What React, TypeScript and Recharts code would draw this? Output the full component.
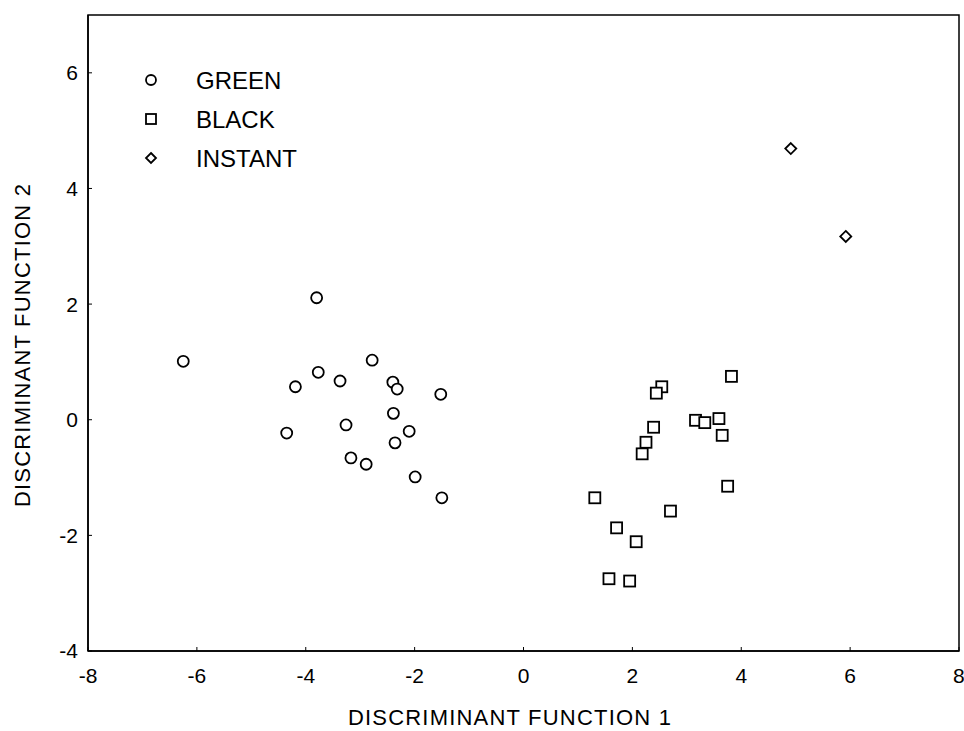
import React from 'react'
import {
  ScatterChart, Scatter, XAxis, YAxis, ReferenceArea,
} from 'recharts'

// discriminant scores
const greenX = [-6.25, -3.8, -2.78, -3.77, -4.19, -3.37, -2.4, -2.32, -1.52, -2.39, -3.26, -4.35, -2.1, -2.36, -3.17, -2.89, -1.99, -1.5]
const greenY = [1.01, 2.11, 1.03, 0.82, 0.57, 0.67, 0.65, 0.53, 0.44, 0.11, -0.09, -0.23, -0.2, -0.4, -0.66, -0.77, -0.99, -1.35]

const blackX = [3.82, 2.54, 2.44, 3.16, 3.33, 3.59, 3.65, 2.39, 2.25, 2.18, 3.75, 1.31, 2.7, 1.71, 2.07, 1.57, 1.95]
const blackY = [0.75, 0.57, 0.46, -0.01, -0.05, 0.02, -0.27, -0.13, -0.39, -0.59, -1.15, -1.35, -1.58, -1.87, -2.11, -2.75, -2.79]

const instantX = [4.91, 5.92]
const instantY = [4.69, 3.17]

const xTicks = [-8, -6, -4, -2, 0, 2, 4, 6, 8]
const yTicks = [-4, -2, 0, 2, 4, 6]

type Kind = 'circle' | 'square' | 'diamond'

const zip = (xs: number[], ys: number[]) => xs.map((x, i) => ({ x, y: ys[i] }))

const SERIES: { name: string; kind: Kind; data: { x: number; y: number }[] }[] = [
  { name: 'GREEN', kind: 'circle', data: zip(greenX, greenY) },
  { name: 'BLACK', kind: 'square', data: zip(blackX, blackY) },
  { name: 'INSTANT', kind: 'diamond', data: zip(instantX, instantY) },
]

const FONT = '"Liberation Sans", Arial, sans-serif'

function Marker({ cx, cy, kind, r = 5.5 }: { cx: number; cy: number; kind: Kind; r?: number }) {
  const common = { fill: '#fff', stroke: '#000', strokeWidth: 1.8 }
  if (kind === 'circle') return <circle cx={cx} cy={cy} r={r} {...common} />
  if (kind === 'square') return <rect x={cx - r} y={cy - r} width={r * 2} height={r * 2} {...common} />
  return <path d={`M${cx},${cy - r}L${cx + r},${cy}L${cx},${cy + r}L${cx - r},${cy}Z`} {...common} />
}

// legend sits inside the plot frame, top-left
function LegendBox() {
  return (
    <svg width={220} height={130} style={{ position: 'absolute', left: 130, top: 55 }}>
      {SERIES.map((s, i) => (
        <g key={s.name}>
          <Marker cx={21} cy={25 + i * 39} kind={s.kind} r={5} />
          <text x={66} y={25 + i * 39} dy="0.36em" fontSize={24} fontFamily={FONT} fill="#000">
            {s.name}
          </text>
        </g>
      ))}
    </svg>
  )
}

export default function App() {
  return (
    <div style={{ position: 'absolute', left: 0, top: 0, width: 964, height: 731, background: '#fff' }}>
      <ScatterChart width={964} height={731} margin={{ top: 15, right: 5, bottom: 0, left: 0 }}>
        <XAxis
          type="number"
          dataKey="x"
          domain={[-8, 8]}
          ticks={xTicks}
          height={80}
          allowDataOverflow
          tickSize={-4}
          tickMargin={21}
          tick={{ fontSize: 21, fontFamily: FONT, fill: '#000' }}
          axisLine={{ stroke: '#000', strokeWidth: 1.5 }}
          tickLine={{ stroke: '#000' }}
          label={{
            content: () => (
              <text x={510} y={725} textAnchor="middle" fontSize={22} letterSpacing={1.2} fontFamily={FONT} fill="#000">
                DISCRIMINANT FUNCTION 1
              </text>
            ),
          }}
        />
        <YAxis
          type="number"
          dataKey="y"
          domain={[-4, 7]}
          ticks={yTicks}
          width={88}
          allowDataOverflow
          tickSize={-4}
          tickMargin={14}
          tick={{ fontSize: 21, fontFamily: FONT, fill: '#000' }}
          axisLine={{ stroke: '#000', strokeWidth: 1.5 }}
          tickLine={{ stroke: '#000' }}
          label={{
            content: () => (
              <text
                transform="translate(22.5,345) rotate(-90)"
                textAnchor="middle"
                dy="0.36em"
                fontSize={22}
                letterSpacing={1.2}
                fontFamily={FONT}
                fill="#000"
              >
                DISCRIMINANT FUNCTION 2
              </text>
            ),
          }}
        />
        <ReferenceArea x1={-8} x2={8} y1={-4} y2={7} fill="none" stroke="#000" strokeWidth={1.5} ifOverflow="visible" />
        {SERIES.map(s => (
          <Scatter
            key={s.name}
            name={s.name}
            data={s.data}
            isAnimationActive={false}
            shape={(p: any) => <Marker cx={p.cx} cy={p.cy} kind={s.kind} />}
          />
        ))}
      </ScatterChart>
      <LegendBox />
    </div>
  )
}
